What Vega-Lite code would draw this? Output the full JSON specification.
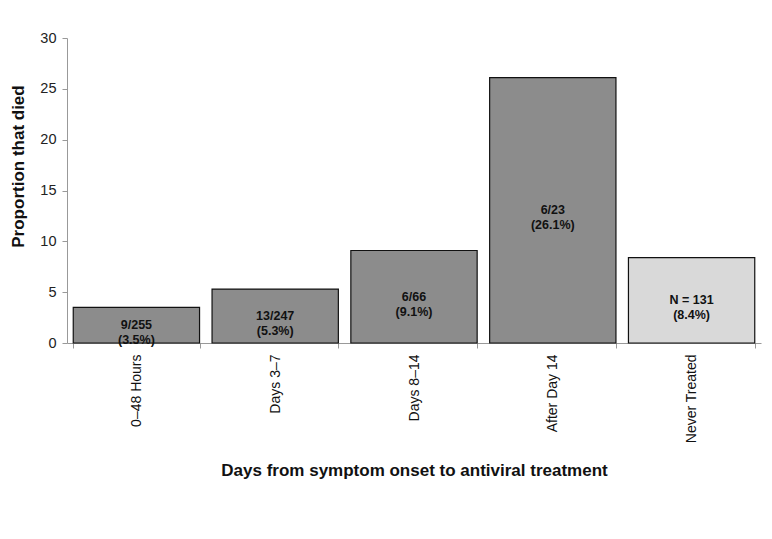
{
  "$schema": "https://vega.github.io/schema/vega-lite/v6.json",
  "width": 694,
  "height": 305,
  "autosize": {"type": "none"},
  "padding": {"left": 67, "top": 38, "right": 11, "bottom": 196},
  "background": "white",
  "config": {
    "font": "Liberation Sans",
    "view": {"stroke": null}
  },
  "data": {
    "values": [
      {"group": "0–48 Hours", "value": 3.5, "label": "9/255\n(3.5%)", "type": "treated"},
      {"group": "Days 3–7", "value": 5.3, "label": "13/247\n(5.3%)", "type": "treated"},
      {"group": "Days 8–14", "value": 9.1, "label": "6/66\n(9.1%)", "type": "treated"},
      {"group": "After Day 14", "value": 26.1, "label": "6/23\n(26.1%)", "type": "treated"},
      {"group": "Never Treated", "value": 8.4, "label": "N = 131\n(8.4%)", "type": "never"}
    ]
  },
  "encoding": {
    "x": {
      "field": "group",
      "type": "nominal",
      "sort": null,
      "scale": {"paddingInner": 0.09, "paddingOuter": 0.045},
      "axis": {
        "title": "Days from symptom onset to antiviral treatment",
        "titleFont": "Liberation Sans",
        "titleFontSize": 17,
        "titleFontWeight": "bold",
        "titleColor": "#111",
        "titlePadding": 20,
        "labelAngle": -90,
        "labelFontSize": 14,
        "labelColor": "#111",
        "labelPadding": 6,
        "tickBand": "extent",
        "tickSize": 5,
        "tickColor": "#999",
        "domainColor": "#999"
      }
    }
  },
  "layer": [
    {
      "mark": {"type": "bar", "stroke": "#111", "strokeWidth": 1.2},
      "encoding": {
        "y": {
          "field": "value",
          "type": "quantitative",
          "scale": {"domain": [0, 30]},
          "axis": {
            "title": "Proportion that died",
            "titleFontSize": 17,
            "titleFontWeight": "bold",
            "titleColor": "#111",
            "titlePadding": 12,
            "titleY": 128,
            "values": [0, 5, 10, 15, 20, 25, 30],
            "labelFontSize": 14.5,
            "labelColor": "#222",
            "labelPadding": 6,
            "grid": false,
            "tickSize": 5,
            "tickColor": "#999",
            "domainColor": "#999"
          }
        },
        "color": {
          "field": "type",
          "type": "nominal",
          "scale": {"domain": ["treated", "never"], "range": ["#8c8c8c", "#d9d9d9"]},
          "legend": null
        }
      }
    },
    {
      "transform": [{"calculate": "datum.value / 2", "as": "mid"}],
      "mark": {"type": "text", "fontWeight": "bold", "fontSize": 12.5, "lineBreak": "\n", "lineHeight": 15, "baseline": "middle", "color": "#111"},
      "encoding": {
        "y": {"field": "mid", "type": "quantitative"},
        "text": {"field": "label"}
      }
    }
  ]
}
